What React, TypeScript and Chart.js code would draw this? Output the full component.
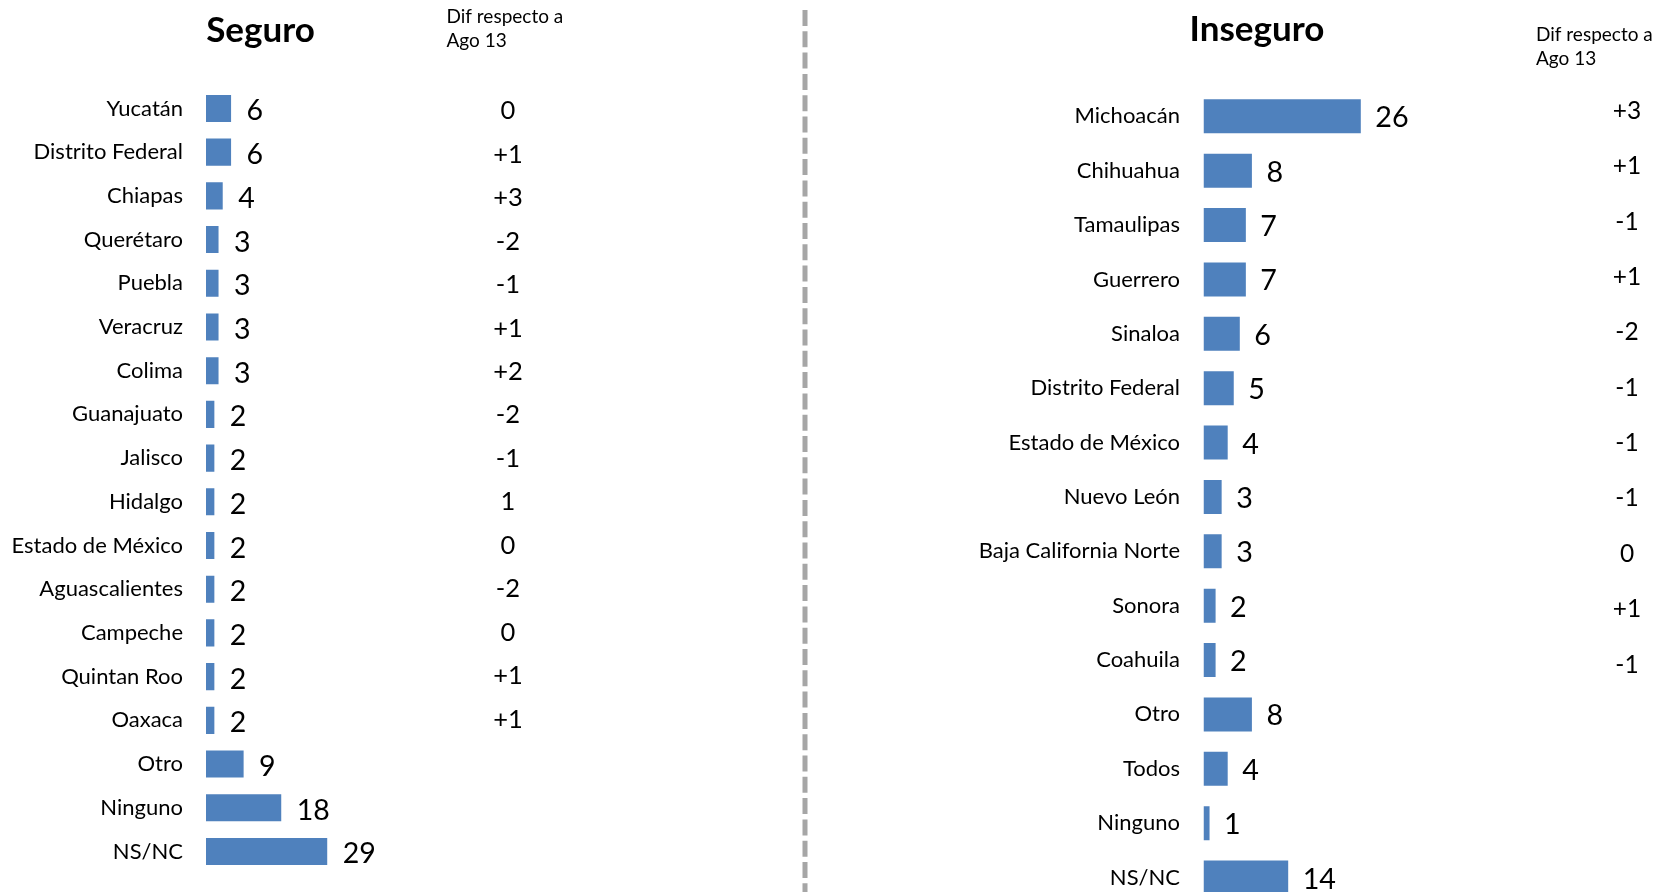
import React, { useEffect, useRef } from "react";
import { Chart, registerables } from "chart.js";

Chart.register(...registerables);

// ---------- data ----------
const seguroTitle = "Seguro";
const seguroCategories = [
  "Yucatán", "Distrito Federal", "Chiapas", "Querétaro", "Puebla", "Veracruz",
  "Colima", "Guanajuato", "Jalisco", "Hidalgo", "Estado de México",
  "Aguascalientes", "Campeche", "Quintan Roo", "Oaxaca", "Otro", "Ninguno", "NS/NC",
];
const seguroValues = [6, 6, 4, 3, 3, 3, 3, 2, 2, 2, 2, 2, 2, 2, 2, 9, 18, 29];
const seguroDif = ["0", "+1", "+3", "-2", "-1", "+1", "+2", "-2", "-1", "1", "0", "-2", "0", "+1", "+1"];

const insegTitle = "Inseguro";
const insegCategories = [
  "Michoacán", "Chihuahua", "Tamaulipas", "Guerrero", "Sinaloa", "Distrito Federal",
  "Estado de México", "Nuevo León", "Baja California Norte", "Sonora", "Coahuila",
  "Otro", "Todos", "Ninguno", "NS/NC",
];
const insegValues = [26, 8, 7, 7, 6, 5, 4, 3, 3, 2, 2, 8, 4, 1, 14];
const insegDif = ["+3", "+1", "-1", "+1", "-2", "-1", "-1", "-1", "0", "+1", "-1"];

const difHeader = ["Dif respecto a", "Ago 13"];

// ---------- styles ----------
const FONT = "Lato, 'Noto Sans', sans-serif";
const BAR_COLOR = "#4F81BD";

type PanelCfg = {
  title: string;
  categories: string[];
  values: number[];
  dif: string[];
  left: number;
  width: number;
  height: number;
  axisWidth: number;
  tickPad: number;
  padTop: number;
  padBottom: number;
  pxPerUnit: number;
  barPct: number;
  labelSize: number;
  valueSize: number;
  valueGap: number;
  valueDy: number;
  titleX: number;
  titleBaseline: number;
  titleSize: number;
  headerX: number;
  headerBaselines: number[];
  headerSize: number;
  difX: number;
  difSize: number;
  difDy: number;
  difDrift: number;
  dashed: boolean;
};

const leftCfg: PanelCfg = {
  title: seguroTitle,
  categories: seguroCategories,
  values: seguroValues,
  dif: seguroDif,
  left: 0,
  width: 780,
  height: 940,
  axisWidth: 206,
  tickPad: 23,
  padTop: 86.6,
  padBottom: 66.7,
  pxPerUnit: 4.18,
  barPct: 0.62,
  labelSize: 22,
  valueSize: 28.5,
  valueGap: 15.5,
  valueDy: 12,
  titleX: 260.5,
  titleBaseline: 41.5,
  titleSize: 35,
  headerX: 446.5,
  headerBaselines: [22.7, 46.7],
  headerSize: 19,
  difX: 508,
  difSize: 25.5,
  difDy: 10.8,
  difDrift: -0.25,
  dashed: false,
};

const rightCfg: PanelCfg = {
  title: insegTitle,
  categories: insegCategories,
  values: insegValues,
  dif: insegDif,
  left: 780,
  width: 895,
  height: 960,
  axisWidth: 423.5,
  tickPad: 23.5,
  padTop: 89.1,
  padBottom: 55.3,
  pxPerUnit: 6.05,
  barPct: 0.625,
  labelSize: 22,
  valueSize: 28.7,
  valueGap: 14.5,
  valueDy: 11,
  titleX: 477,
  titleBaseline: 40.5,
  titleSize: 35,
  headerX: 756,
  headerBaselines: [41, 65],
  headerSize: 19,
  difX: 847,
  difSize: 24.5,
  difDy: 2.5,
  difDrift: 1.0,
  dashed: true,
};

function Panel({ cfg }: { cfg: PanelCfg }) {
  const ref = useRef<HTMLCanvasElement | null>(null);

  useEffect(() => {
    const canvas = ref.current;
    if (!canvas) return;

    const overlay = {
      id: "overlay",
      afterDatasetsDraw(chart: any) {
        const ctx = chart.ctx as CanvasRenderingContext2D;
        const meta = chart.getDatasetMeta(0);
        ctx.save();
        ctx.fillStyle = "#000";
        ctx.textBaseline = "alphabetic";

        // value labels
        ctx.font = `${cfg.valueSize}px ${FONT}`;
        ctx.textAlign = "left";
        meta.data.forEach((bar: any, i: number) => {
          ctx.fillText(String(cfg.values[i]), bar.x + cfg.valueGap, bar.y + cfg.valueDy);
        });

        // difference column
        ctx.font = `${cfg.difSize}px ${FONT}`;
        ctx.textAlign = "center";
        cfg.dif.forEach((d, i) => {
          const bar = meta.data[i];
          if (!bar) return;
          ctx.fillText(d, cfg.difX, bar.y + cfg.difDy + i * cfg.difDrift);
        });

        // title
        ctx.font = `bold ${cfg.titleSize}px ${FONT}`;
        ctx.textAlign = "center";
        ctx.fillText(cfg.title, cfg.titleX, cfg.titleBaseline);

        // header
        ctx.font = `${cfg.headerSize}px ${FONT}`;
        ctx.textAlign = "left";
        difHeader.forEach((t, i) => ctx.fillText(t, cfg.headerX, cfg.headerBaselines[i]));

        // dashed separator
        if (cfg.dashed) {
          ctx.strokeStyle = "#A6A6A6";
          ctx.lineWidth = 5;
          ctx.setLineDash([16, 5.3]);
          ctx.beginPath();
          ctx.moveTo(25, 10);
          ctx.lineTo(25, chart.height);
          ctx.stroke();
        }
        ctx.restore();
      },
    };

    const areaWidth = cfg.width - cfg.axisWidth;
    const chart = new Chart(canvas, {
      type: "bar",
      data: {
        labels: cfg.categories,
        datasets: [
          {
            data: cfg.values,
            backgroundColor: BAR_COLOR,
            borderWidth: 0,
            barPercentage: cfg.barPct,
            categoryPercentage: 1,
          },
        ],
      },
      options: {
        indexAxis: "y",
        responsive: false,
        animation: false,
        devicePixelRatio: 1,
        layout: { padding: { left: 0, right: 0, top: cfg.padTop, bottom: cfg.padBottom } },
        plugins: {
          legend: { display: false },
          tooltip: { enabled: false },
          title: { display: false },
        },
        scales: {
          x: {
            display: false,
            min: 0,
            max: areaWidth / cfg.pxPerUnit,
          },
          y: {
            grid: { display: false, drawTicks: false },
            border: { display: false },
            ticks: {
              padding: cfg.tickPad,
              color: "#000",
              font: { family: FONT, size: cfg.labelSize },
              autoSkip: false,
            },
            afterFit: (scale: any) => {
              scale.width = cfg.axisWidth;
            },
          },
        },
      },
      plugins: [overlay],
    } as any);

    return () => chart.destroy();
  }, [cfg]);

  return (
    <canvas
      ref={ref}
      width={cfg.width}
      height={cfg.height}
      style={{ position: "absolute", left: cfg.left, top: 0, display: "block" }}
    />
  );
}

export default function App() {
  return (
    <div
      style={{
        position: "fixed",
        left: 0,
        top: 0,
        width: 1675,
        height: 892,
        overflow: "hidden",
        background: "#fff",
      }}
    >
      <Panel cfg={leftCfg} />
      <Panel cfg={rightCfg} />
    </div>
  );
}
